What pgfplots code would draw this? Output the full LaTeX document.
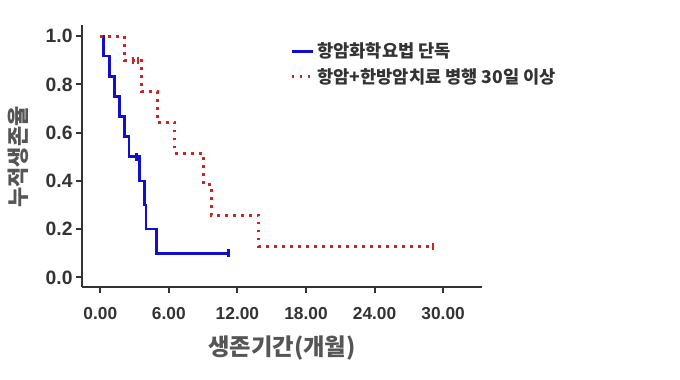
\documentclass[border=0pt]{standalone}
\usepackage{pgfplots}
\pgfplotsset{compat=1.18}
\usepackage{fontspec}
\setmainfont{Liberation Sans}
\newfontfamily\kr{Noto Sans CJK KR}
\definecolor{kmblue}{RGB}{15,15,205}
\definecolor{kmred}{RGB}{205,35,35}
\definecolor{txt}{RGB}{51,51,51}
\definecolor{lbl}{RGB}{85,85,85}
\begin{document}
\begin{tikzpicture}
\useasboundingbox (-61.5pt,-69pt) rectangle (448.5pt,215.25pt);
\begin{axis}[
  scale only axis, width=300pt, height=196.5pt,
  xmin=-1.6, xmax=33.4, ymin=-0.04, ymax=1.046,
  axis lines=left,
  axis line style={line width=1.6pt, color=txt, -},
  tick style={line width=1.6pt, color=txt},
  major tick length=4.5pt, tick align=outside,
  xtick={0,6,12,18,24,30},
  xticklabels={0.00,6.00,12.00,18.00,24.00,30.00},
  ytick={0,0.2,0.4,0.6,0.8,1.0},
  yticklabels={0.0,0.2,0.4,0.6,0.8,1.0},
  xticklabel style={font=\bfseries\fontsize{13}{13}\selectfont, text=txt, yshift=-7.5pt},
  yticklabel style={font=\bfseries\fontsize{14.5}{14.5}\selectfont, text=txt, xshift=1pt},
  xlabel={생존기간(개월)}, ylabel={누적생존율},
  xlabel style={font=\kr\bfseries\fontsize{17.5}{18}\selectfont, text=lbl,
    at={(axis description cs:0.5,-0.2328)}, anchor=center},
  ylabel style={font=\kr\bfseries\fontsize{16.5}{17}\selectfont, text=lbl,
    at={(axis description cs:-0.16,0.496)}, anchor=center},
  legend style={draw=none, fill=none, at={(axis description cs:0.52,0.943)},
    anchor=north west, font=\kr\bfseries\fontsize{13.2}{13.2}\selectfont,
    text=txt, row sep=2.5pt, inner sep=0pt, nodes={inner sep=2pt}},
  legend cell align=left,
  legend image code/.code={\draw[#1] (0pt,0pt) -- (10.5pt,0pt);
    \path (0pt,0pt) -- (16pt,0pt);},
  clip=false,
]
% chemotherapy only (n = 12)
\addplot[const plot, kmblue, line width=2pt] coordinates {
  (0,1) (0.3,0.917) (0.8,0.833) (1.25,0.75) (1.7,0.667) (2.1,0.583)
  (2.5,0.5) (3.45,0.4) (3.85,0.3) (4.0,0.2) (4.9,0.1) (11.2,0.1)};
\addlegendentry{항암화학요법 단독}
% combined treatment, 30 days or more (n = 10)
\addplot[const plot, kmred, line width=2.3pt, dash pattern=on 2pt off 4pt] coordinates {
  (0,1) (2.1,0.9) (3.6,0.771) (5.0,0.643) (6.5,0.514) (9.0,0.386)
  (9.7,0.257) (13.85,0.129) (29.1,0.129)};
\addlegendentry{항암+한방암치료 병행 30일 이상}
% censored observations
\addplot[only marks, mark=|, mark size=3pt, kmblue,
  mark options={line width=2pt}, forget plot] coordinates {
  (3.15,0.5) (11.2,0.1)};
\addplot[only marks, mark=|, mark size=2.5pt, kmred,
  mark options={line width=1.8pt}, forget plot] coordinates {
  (2.85,0.9) (3.3,0.9) (29.1,0.129)};
\end{axis}
\end{tikzpicture}
\end{document}
